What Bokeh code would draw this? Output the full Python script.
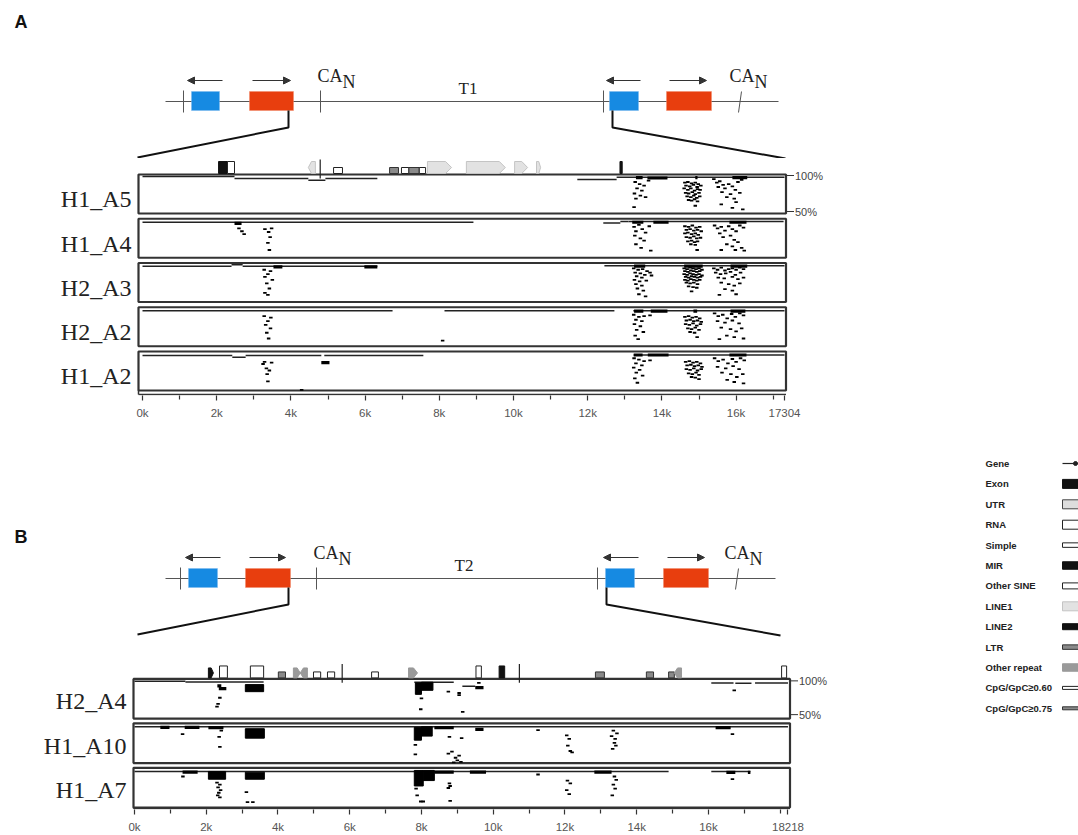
from bokeh.plotting import figure
from bokeh.layouts import row, column
from bokeh.models import Range1d, FixedTicker, Arrow, NormalHead
from bokeh.embed import file_html
from bokeh.resources import INLINE
from bokeh.core.properties import value

# ======================= DATA =======================
A_TRACKS = ["H1_A5", "H1_A4", "H2_A3", "H2_A2", "H1_A2"]
A_LENGTH = 17304
B_TRACKS = ["H2_A4", "H1_A10", "H1_A7"]
B_LENGTH = 18218

A_TICKS = [0, 2000, 4000, 6000, 8000, 10000, 12000, 14000, 16000, 17304]
A_TICK_LABELS = ["0k", "2k", "4k", "6k", "8k", "10k", "12k", "14k", "16k", "17304"]
A_MINOR = [1000, 3000, 5000, 7000, 9000, 11000, 13000, 15000, 17000]
B_TICKS = [0, 2000, 4000, 6000, 8000, 10000, 12000, 14000, 16000, 18218]
B_TICK_LABELS = ["0k", "2k", "4k", "6k", "8k", "10k", "12k", "14k", "16k", "18218"]
B_MINOR = [1000, 3000, 5000, 7000, 9000, 11000, 13000, 15000, 17000, 18000]

PCT_TICKS = [100, 50]
PCT_LABELS = ["100%", "50%"]

# --- panel A: (start, end, % identity) lines, bold segments, single dashes (pos, %)
H1_A5_LINES = [(0, 2480, 98.5), (2480, 4470, 96), (4470, 4930, 93.5), (4930, 6330, 96),
               (11720, 12780, 94.5), (12780, 17304, 97.5)]
H1_A5_THICK = [(13300, 13480, 97), (13610, 14150, 96.5), (14900, 14960, 97), (15900, 16300, 97)]
H1_A5_DOTS = [(13280, 91), (13400, 88), (13520, 86), (13330, 82), (13460, 79), (13260, 75), (13420, 72),
              (13300, 68), (13250, 56), (13640, 93), (13560, 70),
              (14620, 90), (14700, 91), (14800, 89), (14900, 90), (14980, 88), (14650, 86), (14750, 85),
              (14850, 87), (14950, 84), (15050, 86), (14600, 82), (14700, 80), (14780, 82), (14880, 79),
              (14960, 81), (15030, 80), (14640, 76), (14720, 75), (14820, 77), (14900, 74), (15000, 76),
              (14680, 71), (14780, 70), (14860, 72), (14940, 69), (15020, 71), (14720, 66), (14800, 65),
              (14880, 67), (14960, 64), (14900, 58),
              (15400, 95), (15480, 90), (15560, 92), (15650, 87), (15520, 84), (15700, 82), (15800, 88),
              (15900, 85), (15980, 80), (16050, 91), (16150, 94), (16100, 76), (15850, 74), (15620, 77),
              (15750, 70), (15950, 68), (16000, 63), (15600, 60), (15900, 55), (16180, 53)]

H1_A4_LINES = [(0, 8920, 96.5), (12420, 12880, 95.5), (12880, 13100, 97.5), (13100, 17280, 97.5)]
H1_A4_THICK = [(2480, 2670, 95), (13200, 13500, 96.5), (13770, 14180, 96.5), (15820, 16280, 96.5)]
H1_A4_DOTS = [(2600, 88), (2680, 84), (2740, 80), (3300, 87), (3480, 88), (3400, 83), (3440, 76),
              (3380, 68), (3420, 58),
              (13250, 90), (13380, 93), (13470, 87), (13300, 84), (13560, 82), (13270, 78), (13420, 74),
              (13520, 71), (13300, 66), (13440, 61), (13660, 91), (13700, 57),
              (14620, 91), (14720, 90), (14820, 92), (14920, 89), (15020, 90), (14660, 86), (14760, 87),
              (14860, 85), (14960, 86), (15060, 84), (14620, 81), (14700, 82), (14800, 80), (14900, 81),
              (14980, 79), (14660, 76), (14760, 75), (14860, 77), (14940, 74), (15040, 75), (14700, 70),
              (14800, 71), (14880, 69), (14960, 70), (14780, 66), (14900, 65), (14950, 58),
              (15420, 92), (15500, 88), (15600, 90), (15700, 85), (15560, 81), (15800, 91), (15900, 87),
              (16000, 84), (16100, 92), (16200, 89), (15650, 76), (15850, 78), (15950, 72), (16050, 69),
              (15750, 66), (15900, 63), (16150, 61), (15600, 58), (15980, 58), (16220, 57)]

H2_A3_LINES = [(0, 2400, 97), (2400, 2700, 99), (2700, 6330, 97), (12450, 17304, 97.5)]
H2_A3_THICK = [(3530, 3770, 96), (5980, 6330, 96), (13250, 13550, 97), (14600, 15100, 97), (15850, 16300, 97)]
H2_A3_DOTS = [(3280, 92), (3450, 90), (3380, 86), (3300, 82), (3500, 78), (3350, 73), (3420, 66),
              (3300, 60), (3380, 57),
              (13240, 94), (13360, 92), (13480, 93), (13600, 90), (13280, 88), (13420, 87), (13540, 85),
              (13320, 83), (13460, 81), (13260, 78), (13400, 76), (13580, 77), (13300, 72), (13460, 70),
              (13340, 66), (13500, 63), (13380, 58), (13680, 88), (13720, 84), (13560, 55),
              (14600, 94), (14680, 93), (14760, 95), (14840, 94), (14920, 93), (15000, 94), (15080, 92),
              (14620, 90), (14700, 89), (14780, 91), (14860, 90), (14940, 89), (15020, 90),
              (14600, 86), (14680, 85), (14760, 87), (14840, 86), (14920, 85), (15000, 86), (15080, 84),
              (14640, 82), (14720, 81), (14800, 83), (14880, 82), (14960, 81), (15040, 82),
              (14620, 78), (14700, 77), (14780, 79), (14860, 78), (14940, 77), (15020, 78),
              (14660, 74), (14760, 73), (14860, 74), (14960, 72), (14720, 69), (14840, 68), (14940, 67),
              (14800, 62),
              (15400, 94), (15500, 92), (15600, 95), (15700, 91), (15800, 93), (15900, 94), (16000, 92),
              (16100, 95), (16200, 93), (15450, 88), (15580, 86), (15720, 87), (15850, 89), (15980, 85),
              (16120, 88), (15520, 81), (15680, 80), (15900, 82), (16050, 79), (16200, 81), (15600, 74),
              (15800, 72), (15950, 70), (16100, 73), (15700, 65), (15900, 63), (16000, 58), (15550, 57)]

H2_A2_LINES = [(0, 6740, 96.5), (8140, 12720, 96.5), (13230, 17304, 96.5)]
H2_A2_THICK = [(13250, 13500, 96), (13700, 14150, 96), (14850, 14950, 96), (15850, 16250, 96)]
H2_A2_DOTS = [(3280, 89), (3460, 87), (3380, 82), (3320, 77), (3450, 72), (3350, 66), (3400, 58), (8090, 55),
              (13240, 91), (13380, 88), (13520, 89), (13300, 84), (13460, 82), (13260, 78), (13420, 75),
              (13320, 70), (13500, 67), (13280, 62), (13680, 90), (13360, 57),
              (14620, 88), (14720, 89), (14820, 87), (14920, 88), (15020, 86), (14660, 83), (14760, 84),
              (14860, 82), (14960, 83), (15060, 81), (14640, 78), (14740, 77), (14840, 79), (14940, 76),
              (15040, 78), (14700, 72), (14800, 71), (14900, 73), (15000, 70), (14760, 67), (14880, 66),
              (14950, 60),
              (15420, 93), (15520, 89), (15640, 91), (15760, 86), (15880, 92), (15980, 88), (16100, 93),
              (16200, 90), (15500, 82), (15700, 80), (15900, 83), (16080, 79), (15600, 73), (15850, 71),
              (16000, 68), (16150, 72), (15750, 62), (15950, 60), (16200, 58), (15550, 57)]

H1_A2_LINES = [(0, 2420, 96), (2420, 2780, 93.5), (2780, 4820, 96), (4900, 7570, 96), (13240, 17304, 96.5)]
H1_A2_THICK = [(4820, 5040, 86), (13240, 13480, 96.5), (13620, 14180, 96.5), (15820, 16280, 96.5)]
H1_A2_DOTS = [(3290, 87), (3480, 86), (3250, 84), (3340, 78), (3420, 75), (3360, 70), (3380, 60), (4290, 48),
              (13250, 92), (13380, 90), (13520, 88), (13300, 85), (13460, 82), (13240, 79), (13400, 76),
              (13310, 72), (13480, 68), (13270, 64), (13340, 58), (13680, 89),
              (14640, 87), (14740, 88), (14840, 86), (14940, 87), (15040, 85), (14680, 82), (14780, 83),
              (14880, 81), (14980, 82), (15080, 80), (14660, 77), (14760, 76), (14860, 78), (14960, 75),
              (15060, 77), (14720, 71), (14820, 70), (14920, 72), (15000, 69), (14800, 66), (14900, 65),
              (15000, 63),
              (15420, 92), (15520, 88), (15650, 90), (15780, 85), (15900, 91), (16000, 87), (16120, 92),
              (16220, 89), (15500, 80), (15720, 78), (15920, 81), (16080, 77), (15620, 72), (15860, 70),
              (16020, 66), (16180, 70), (15760, 62), (15950, 59), (16200, 57)]

# --- panel B
H2_A4_LINES = [(0, 1420, 99.5), (1420, 3600, 98.2), (7800, 8900, 98), (9140, 9500, 92),
               (16080, 16700, 97), (16750, 17200, 96.5), (17300, 18218, 97)]
H2_A4_THICK = [(2310, 2420, 92.5), (2350, 2560, 88.5), (9500, 9730, 90)]
H2_A4_BLOCKS = [(3090, 3600, 94.5, 84), (7830, 8000, 97, 80), (8000, 8320, 98, 86)]
H2_A4_DOTS = [(2380, 75), (2330, 66), (2300, 62), (8000, 74), (7980, 58), (8750, 84), (9050, 82),
              (9050, 79), (9150, 54), (9600, 97), (16720, 86)]

H1_A10_LINES = [(0, 18218, 98)]
H1_A10_THICK = [(720, 975, 97), (1400, 1810, 97), (2060, 2480, 96.5), (8360, 8900, 96.5),
                (9500, 9730, 94), (16200, 16620, 96.5)]
H1_A10_BLOCKS = [(3090, 3620, 95, 81), (7800, 8000, 97, 78), (8000, 8300, 98, 84)]
H1_A10_DOTS = [(1340, 87), (2360, 83), (2380, 68), (2420, 92), (8780, 83), (9120, 81), (7830, 71),
               (7830, 57), (8750, 58), (8850, 61), (8950, 52), (9000, 48), (9050, 55), (9100, 46),
               (8900, 45), (11250, 93), (12050, 85), (12120, 80), (12080, 70), (12150, 62), (12200, 60),
               (13350, 92), (13450, 88), (13300, 84), (13400, 80), (13380, 74), (13420, 70), (13330, 65),
               (16670, 87)]

H1_A7_LINES = [(0, 14890, 97.5), (16080, 17170, 97.5)]
H1_A7_THICK = [(1340, 1760, 96.5), (8360, 8900, 96.5), (9350, 9800, 96.5), (12820, 13300, 96.5),
               (16500, 16750, 96), (17100, 17170, 96)]
H1_A7_BLOCKS = [(2060, 2540, 97.5, 86), (3090, 3620, 96.5, 86), (7800, 8050, 99, 76), (8050, 8360, 99, 84)]
H1_A7_DOTS = [(1350, 90), (2300, 81), (2380, 78), (2330, 74), (2400, 70), (2350, 66), (2320, 62),
              (2380, 59), (3120, 67), (3150, 52), (3300, 52), (7850, 72), (7880, 62), (7980, 53),
              (8050, 53), (8780, 80), (8800, 76), (8750, 73), (8800, 54), (11250, 93), (12070, 84),
              (12150, 80), (12050, 70), (12120, 64), (13380, 90), (13430, 85), (13350, 78), (13400, 72),
              (13320, 62), (16670, 86)]

# --- annotation features (start, end, type, strand)
A_FEATURES = [(2050, 2290, "Exon", 1), (2290, 2480, "RNA", 1), (4470, 4660, "LINE1", -1),
              (4790, 4800, "Gene", 1), (5150, 5390, "Simple", 1), (6660, 6900, "LTR", 1),
              (6980, 7180, "Simple", 1), (7180, 7460, "LTR", 1), (7460, 7630, "Simple", 1),
              (7680, 8330, "LINE1", 1), (8730, 9780, "LINE1", 1), (10030, 10380, "LINE1", 1),
              (10620, 10730, "LINE1", 1), (12870, 12930, "Exon", 1)]
B_FEATURES = [(2060, 2200, "MIR", 1), (2370, 2590, "RNA", 1), (3230, 3600, "RNA", 1),
              (4010, 4210, "LTR", 1), (4430, 4620, "Other repeat", 1), (4620, 4820, "Other repeat", -1),
              (4990, 5190, "Simple", 1), (5380, 5580, "Simple", 1), (5790, 5800, "Gene", 1),
              (6610, 6800, "Simple", 1), (7640, 7890, "Other repeat", 1), (9520, 9670, "RNA", 1),
              (10165, 10320, "Exon", 1), (10730, 10740, "Gene", 1), (12850, 13100, "LTR", 1),
              (14270, 14470, "LTR", 1), (14890, 15050, "LTR", 1), (15050, 15250, "Other repeat", -1),
              (18040, 18180, "RNA", 1)]

LEGEND_LABELS = ["Gene", "Exon", "UTR", "RNA", "Simple", "MIR", "Other SINE", "LINE1", "LINE2",
                 "LTR", "Other repeat", "CpG/GpC≥0.60", "CpG/GpC≥0.75"]

# --- schematic (diagram units = pixels of the drawing)
SCHEM_A = dict(line=[165, 778], blue=[[191, 219], [609, 638]], red=[[249, 293], [666, 711]],
               ticks=[183, 320, 603], slant=[738, 741], larrows=[[222, 187], [640, 606]],
               rarrows=[[252, 290], [669, 706]], ca=[317, 729], tlabel=["T1", 458],
               zoom=[[288, 137], [612, 785]])
SCHEM_B = dict(line=[165, 775], blue=[[188, 217], [605, 634]], red=[[245, 290], [663, 708]],
               ticks=[180, 316, 597], slant=[735, 738], larrows=[[220, 185], [638, 603]],
               rarrows=[[249, 285], [667, 704]], ca=[313, 724], tlabel=["T2", 454],
               zoom=[[288, 137], [606, 780]])

# ======================= STYLE =======================
W_LEFT = 838
W_LEG = 240
SANS = "Liberation Sans"
SERIF = "Liberation Serif"
BLUE = "#168ae2"
RED = "#e83e0e"

FEATURE_STYLE = {
    "Gene": dict(kind="line", fill="#222222", line="#222222", h=14),
    "Exon": dict(kind="box", fill="#111111", line="#111111", h=12),
    "UTR": dict(kind="box", fill="#dddddd", line="#444444", h=12),
    "RNA": dict(kind="box", fill="#ffffff", line="#222222", h=12),
    "Simple": dict(kind="box", fill="#ffffff", line="#222222", h=6),
    "MIR": dict(kind="flag", fill="#111111", line="#111111", h=10),
    "Other SINE": dict(kind="flag", fill="#ffffff", line="#222222", h=8),
    "LINE1": dict(kind="flag", fill="#e2e2e2", line="#c4c4c4", h=12),
    "LINE2": dict(kind="box", fill="#111111", line="#111111", h=8),
    "LTR": dict(kind="box", fill="#8a8a8a", line="#333333", h=6),
    "Other repeat": dict(kind="flag", fill="#9a9a9a", line="#9a9a9a", h=10),
    "CpG/GpC≥0.60": dict(kind="box", fill="#ffffff", line="#222222", h=4),
    "CpG/GpC≥0.75": dict(kind="box", fill="#8a8a8a", line="#333333", h=4),
}


def blank_fig(w, h, xr, yr):
    p = figure(width=w, height=h, title=None, x_range=Range1d(*xr), y_range=Range1d(*yr),
               x_axis_type=None, y_axis_type=None, output_backend="svg", toolbar_location=None,
               min_border=0)
    p.outline_line_color = None
    p.grid.visible = False
    return p


def schematic(letter, letter_y, s, y0, y1, yline):
    p = blank_fig(W_LEFT, y1 - y0, (0, W_LEFT), (y1, y0))
    p.text(x=[14], y=[letter_y], text=[letter], text_font=value(SANS), text_font_size=value("18px"),
           text_font_style="bold", text_baseline="middle", text_color="#111")
    p.segment(x0=[s["line"][0]], y0=[yline], x1=[s["line"][1]], y1=[yline], line_color="#555", line_width=1)
    p.segment(x0=s["ticks"], y0=[yline - 11] * len(s["ticks"]), x1=s["ticks"],
              y1=[yline + 11] * len(s["ticks"]), line_color="#555", line_width=1)
    p.segment(x0=[s["slant"][0]], y0=[yline + 11], x1=[s["slant"][1]], y1=[yline - 10], line_color="#555")
    p.quad(left=[b[0] for b in s["blue"]], right=[b[1] for b in s["blue"]], top=[yline - 10] * 2,
           bottom=[yline + 9] * 2, fill_color=BLUE, line_color="#7ab8ee", line_width=0.5)
    p.quad(left=[b[0] for b in s["red"]], right=[b[1] for b in s["red"]], top=[yline - 10] * 2,
           bottom=[yline + 9] * 2, fill_color=RED, line_color="#f08a6a", line_width=0.5)
    for a in s["larrows"] + s["rarrows"]:
        p.add_layout(Arrow(end=NormalHead(size=7, fill_color="#333", line_color="#333"),
                           x_start=a[0], y_start=yline - 21, x_end=a[1], y_end=yline - 21,
                           line_color="#333", line_width=1.2))
    p.text(x=s["ca"], y=[yline - 26] * 2, text=["CA"] * 2, text_font=value(SERIF),
           text_font_size=value("18px"), text_baseline="middle", text_color="#222")
    p.text(x=[c + 25 for c in s["ca"]], y=[yline - 20] * 2, text=["N"] * 2, text_font=value(SERIF),
           text_font_size=value("18px"), text_baseline="middle", text_color="#222")
    p.text(x=[s["tlabel"][1]], y=[yline - 13], text=[s["tlabel"][0]], text_font=value(SERIF),
           text_font_size=value("17px"), text_baseline="middle", text_color="#222")
    zl, zr = s["zoom"]
    p.line(x=[zl[0], zl[0], zl[1]], y=[yline + 9, yline + 26, yline + 56], line_color="#111", line_width=2)
    p.line(x=[zr[0], zr[0], zr[1]], y=[yline + 9, yline + 26, yline + 57], line_color="#111", line_width=2)
    return p


def draw_features(p, feats, base, ppc, ppb, top_extra=5):
    for (s, e, t, strand) in feats:
        st = FEATURE_STYLE[t]
        h = st["h"] / ppc
        if st["kind"] == "line":
            p.segment(x0=[s], y0=[base - top_extra / ppc], x1=[s], y1=[base + h],
                      line_color=st["line"], line_width=1.2)
        elif st["kind"] == "box":
            p.quad(left=[s], right=[e], bottom=[base], top=[base + h], fill_color=st["fill"],
                   line_color=st["line"], line_width=1)
        else:
            tip = min(0.45 * (e - s), 6 / ppb)
            if strand > 0:
                xs = [s, e - tip, e, e - tip, s]
            else:
                xs = [e, s + tip, s, s + tip, e]
            ys = [base, base, base + h / 2, base + h, base + h]
            p.patch(x=xs, y=ys, fill_color=st["fill"], line_color=st["line"], line_width=1)


def track_panel(names, data, feats, ticks, tick_labels, minor, cfg):
    ppb, ppc = cfg["ppb"], cfg["ppc"]
    frame_h = cfg["h"] - cfg["bb"]
    x_start = -cfg["zero_px"] / ppb
    x_end = (W_LEFT - cfg["zero_px"]) / ppb
    y_end = 100 + (cfg["p100"] - cfg["frame_top"]) / ppc
    y_start = y_end - frame_h / ppc
    p = figure(width=W_LEFT, height=cfg["h"], title=None, x_range=Range1d(x_start, x_end),
               y_range=Range1d(y_start, y_end), y_axis_type=None, output_backend="svg",
               toolbar_location=None, min_border_left=0, min_border_right=0, min_border_top=0,
               min_border_bottom=cfg["bb"])
    p.outline_line_color = None
    p.grid.visible = False
    pitch = cfg["pitch_px"] / ppc
    box_top = 100 + (cfg["p100"] - cfg["box_top"]) / ppc
    box_bot = 100 - (cfg["box_bot"] - cfg["p100"]) / ppc
    bl = (cfg["box_l"] - cfg["zero_px"]) / ppb
    br = (cfg["box_r"] - cfg["zero_px"]) / ppb
    y_base = 100 - (cfg["axis_px"] - cfg["p100"]) / ppc
    n = len(names)
    offs = [-k * pitch for k in range(n)]
    p.quad(left=[bl] * n, right=[br] * n, top=[box_top + o for o in offs],
           bottom=[box_bot + o for o in offs], fill_color=None, line_color="#333", line_width=2.2)
    # axis baseline and left connector
    p.segment(x0=[bl], y0=[box_bot + offs[-1]], x1=[bl], y1=[y_base], line_color="#333", line_width=1.5)
    p.segment(x0=[bl], y0=[y_base], x1=[br], y1=[y_base], line_color="#333", line_width=1.5)
    for k, name in enumerate(names):
        d = data[name]
        o = offs[k]
        L = d["lines"]
        p.segment(x0=[a[0] for a in L], x1=[a[1] for a in L], y0=[a[2] + o for a in L],
                  y1=[a[2] + o for a in L], line_color="#222", line_width=1.5)
        T = d["thick"]
        p.segment(x0=[a[0] for a in T], x1=[a[1] for a in T], y0=[a[2] + o for a in T],
                  y1=[a[2] + o for a in T], line_color="#000", line_width=3.2)
        B = d.get("blocks", [])
        if B:
            p.quad(left=[a[0] for a in B], right=[a[1] for a in B], top=[a[2] + o for a in B],
                   bottom=[a[3] + o for a in B], fill_color="#000", line_color="#000")
        D = d["dots"]
        p.scatter(x=[a[0] for a in D], y=[a[1] + o for a in D], marker="dash", size=3.5,
                  line_color="#000", line_width=1.8)
    # track names
    p.text(x=[bl - 7 / ppb] * n, y=[cfg["label_pct"] + o for o in offs], text=names,
           text_font=value(SERIF), text_font_size=value("24px"), text_align="right",
           text_baseline="middle", text_color="#222")
    # identity scale of first track
    p.segment(x0=[br] * 2, x1=[br + 8 / ppb] * 2, y0=PCT_TICKS, y1=PCT_TICKS, line_color="#333", line_width=1)
    p.text(x=[br + 9 / ppb] * 2, y=PCT_TICKS, text=PCT_LABELS, text_font=value(SANS),
           text_font_size=value("11px"), text_baseline="middle", text_color="#444")
    base = 100 + (cfg["p100"] - cfg["row_bottom"]) / ppc
    draw_features(p, feats, base, ppc, ppb)
    # genomic axis
    xa = p.xaxis[0]
    xa.ticker = FixedTicker(ticks=ticks, minor_ticks=minor)
    xa.major_label_overrides = {t: lab for t, lab in zip(ticks, tick_labels)}
    xa.axis_line_color = None
    xa.major_tick_in = 0
    xa.major_tick_out = 5
    xa.minor_tick_in = 0
    xa.minor_tick_out = 4
    xa.major_tick_line_color = "#333"
    xa.minor_tick_line_color = "#333"
    xa.major_tick_line_width = 1.2
    xa.minor_tick_line_width = 1.2
    xa.major_label_standoff = 6
    xa.major_label_text_font = SANS
    xa.major_label_text_font_size = "11.5px"
    xa.major_label_text_color = "#555"
    return p


A_DATA = {
    "H1_A5": dict(lines=H1_A5_LINES, thick=H1_A5_THICK, dots=H1_A5_DOTS),
    "H1_A4": dict(lines=H1_A4_LINES, thick=H1_A4_THICK, dots=H1_A4_DOTS),
    "H2_A3": dict(lines=H2_A3_LINES, thick=H2_A3_THICK, dots=H2_A3_DOTS),
    "H2_A2": dict(lines=H2_A2_LINES, thick=H2_A2_THICK, dots=H2_A2_DOTS),
    "H1_A2": dict(lines=H1_A2_LINES, thick=H1_A2_THICK, dots=H1_A2_DOTS),
}
B_DATA = {
    "H2_A4": dict(lines=H2_A4_LINES, thick=H2_A4_THICK, blocks=H2_A4_BLOCKS, dots=H2_A4_DOTS),
    "H1_A10": dict(lines=H1_A10_LINES, thick=H1_A10_THICK, blocks=H1_A10_BLOCKS, dots=H1_A10_DOTS),
    "H1_A7": dict(lines=H1_A7_LINES, thick=H1_A7_THICK, blocks=H1_A7_BLOCKS, dots=H1_A7_DOTS),
}

CFG_A = dict(h=268, bb=31, ppb=0.0371, ppc=0.72, zero_px=142, frame_top=158, p100=175,
             pitch_px=44.25, box_top=174, box_bot=213, box_l=138, box_r=785.5, axis_px=394,
             row_bottom=173, label_pct=67)
CFG_B = dict(h=175, bb=25, ppb=0.03587, ppc=0.68, zero_px=134, frame_top=660, p100=680.5,
             pitch_px=44.75, box_top=678.5, box_bot=718.5, box_l=133, box_r=789.5, axis_px=809,
             row_bottom=677.5, label_pct=70)

top_a = schematic("A", 21, SCHEM_A, 0, 158, 101)
tracks_a = track_panel(A_TRACKS, A_DATA, A_FEATURES, A_TICKS, A_TICK_LABELS, A_MINOR, CFG_A)
top_b = schematic("B", 536, SCHEM_B, 426, 660, 578)
tracks_b = track_panel(B_TRACKS, B_DATA, B_FEATURES, B_TICKS, B_TICK_LABELS, B_MINOR, CFG_B)

# legend
leg = blank_fig(W_LEG, 835, (W_LEFT, W_LEFT + W_LEG), (835, 0))
leg_y = [463 + i * 20.4 for i in range(len(LEGEND_LABELS))]
leg.text(x=[985] * len(LEGEND_LABELS), y=leg_y, text=LEGEND_LABELS, text_font=value(SANS),
         text_font_size=value("9.5px"), text_font_style="bold", text_baseline="middle", text_color="#222")
for lab, yy in zip(LEGEND_LABELS, leg_y):
    st = FEATURE_STYLE[lab]
    h = st["h"] * 0.75
    x0, x1 = 1062, 1084
    if st["kind"] == "line":
        leg.segment(x0=[x0], y0=[yy], x1=[x1 - 6], y1=[yy], line_color=st["line"], line_width=1.2)
        leg.scatter(x=[1075], y=[yy], size=4, color=st["line"])
    elif st["kind"] == "box":
        leg.quad(left=[x0], right=[x1], top=[yy - h / 2], bottom=[yy + h / 2], fill_color=st["fill"],
                 line_color=st["line"], line_width=1)
    else:
        leg.patch(x=[x0, x1 - 6, x1, x1 - 6, x0], y=[yy + h / 2, yy + h / 2, yy, yy - h / 2, yy - h / 2],
                  fill_color=st["fill"], line_color=st["line"] if st["fill"] != "#ffffff" else "#222")

layout = row(column(top_a, tracks_a, top_b, tracks_b, spacing=0), leg, spacing=0)
open("out.html", "w").write(file_html(layout, INLINE))
